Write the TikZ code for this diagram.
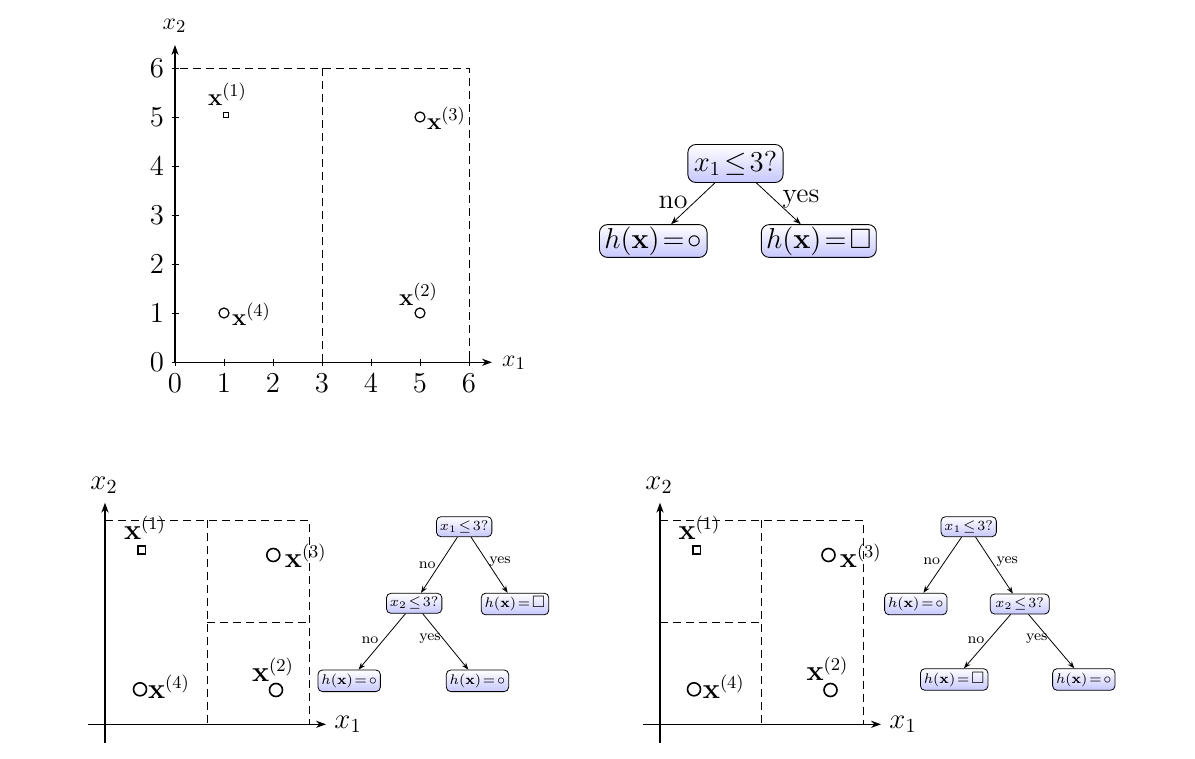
\documentclass[tikz,border=0pt]{standalone}
\usepackage{amsmath,amssymb}
\usetikzlibrary{arrows.meta}
\thickmuskip=2mu plus 1mu
\tikzset{
  x=0.5pt, y=-0.5pt,
  ax/.style={line width=0.55pt, -{Stealth[length=5pt,width=3.6pt]}},
  dsh/.style={line width=0.5pt, dash pattern=on 4pt off 2.5pt},
  tck/.style={line width=0.5pt},
  ticklab/.style={font=\fontsize{14.4}{16}\selectfont, inner sep=0pt},
  axlabA/.style={font=\fontsize{13}{15}\selectfont, inner sep=0pt},
  axlabB/.style={font=\fontsize{14}{16}\selectfont, inner sep=0pt},
  ptlabA/.style={font=\fontsize{12.5}{14}\selectfont, inner sep=0pt},
  ptlabB/.style={font=\fontsize{13.5}{15}\selectfont, inner sep=0pt},
  circA/.style={circle, draw, line width=0.6pt, minimum size=5pt, inner sep=0pt},
  sqA/.style={rectangle, draw, line width=0.6pt, minimum size=2.6pt, inner sep=0pt},
  circB/.style={circle, draw, line width=0.8pt, minimum size=6.5pt, inner sep=0pt},
  sqB/.style={rectangle, draw, line width=0.8pt, minimum size=3.8pt, inner sep=0pt},
  tnode/.style={draw, line width=0.45pt, rounded corners=4pt, top color=white, bottom color=blue!22,
    font=\fontsize{14}{16}\selectfont, inner xsep=2.4pt, inner ysep=1pt},
  bnode/.style={draw, line width=0.4pt, rounded corners=2.2pt, top color=white, bottom color=blue!22,
    font=\fontsize{7.5}{8.5}\selectfont, inner xsep=1.7pt, inner ysep=0.5pt},
  tedge/.style={line width=0.4pt, -{Stealth[length=4pt,width=3pt]}},
  bedge/.style={line width=0.4pt, -{Stealth[length=3.5pt,width=2.6pt]}},
  tlab/.style={font=\fontsize{14}{16}\selectfont, inner sep=0pt},
  blab/.style={font=\fontsize{7.5}{8.5}\selectfont, inner sep=0pt},
}
\begin{document}
\begin{tikzpicture}
\useasboundingbox (0,0) rectangle (1195,759);

% ---------------- top plot ----------------
\coordinate (A0) at (175,362.3);
\coordinate (AX) at (492,362.3);
\coordinate (AY) at (175,45);
\draw[dsh] (175,362.3) rectangle (469,68.3);
\draw[dsh] (322,362.3) -- (322,68.3);
\foreach \k in {0,...,6}{
  \draw[tck] (175+49*\k,358.8) -- (175+49*\k,365.8);
  \draw[tck] (171.5,362.3-49*\k) -- (178.5,362.3-49*\k);
  \node[ticklab] at (175+49*\k,383) {$\k$};
  \node[ticklab] at (157,362.3-49*\k) {$\k$};
}
\draw[ax] (A0) -- (AX);
\draw[ax] (A0) -- (AY);
\node[axlabA] (ax1) at (514,363) {$x_1$};
\node[axlabA] (ax2) at (174.5,26) {$x_2$};

\node[sqA] (p1) at (226,115) {};
\node[circA] (p3) at (420,117) {};
\node[circA] (p2) at (420,313) {};
\node[circA] (p4) at (224,313) {};
\node[ptlabA] (l1) at (227.5,94) {$\mathbf{x}^{(1)}$};
\node[ptlabA] (l3) at (446.5,118) {$\mathbf{x}^{(3)}$};
\node[ptlabA] (l2) at (418.5,294.5) {$\mathbf{x}^{(2)}$};
\node[ptlabA] (l4) at (251.5,314) {$\mathbf{x}^{(4)}$};

% ---------------- top tree ----------------
\node[tnode, minimum height=19pt, inner xsep=3pt] (tr) at (735.5,163.5) {$x_1\leq3?$};
\node[tnode, minimum height=16pt] (tl) at (653.3,241) {$h(\mathbf{x})=\circ$};
\node[tnode, minimum height=16pt] (tq) at (818.8,241) {$h(\mathbf{x})=\square$};
\draw[tedge] (tr) -- (tl);
\draw[tedge] (tr) -- (tq);
\node[tlab] (tno) at (673,202) {no};
\node[tlab] (tyes) at (801,199) {yes};

% ---------------- bottom-left plot ----------------
\coordinate (BLx0) at (88,724.3);
\coordinate (BLx1) at (326,724.3);
\coordinate (BLy0) at (105,742.7);
\coordinate (BLy1) at (105,502.7);
\draw[dsh] (105,520) -- (309,520) -- (309,724.3);
\draw[dsh] (207,520) -- (207,724.3);
\draw[dsh] (207,622.3) -- (309,622.3);
\draw[ax] (BLx0) -- (BLx1);
\draw[ax] (BLy0) -- (BLy1);
\node[axlabB] (blx1) at (348,724) {$x_1$};
\node[axlabB] (blx2) at (104,485.5) {$x_2$};
\node[sqB] (bp1) at (141.7,550) {};
\node[circB] (bp3) at (273.3,555) {};
\node[circB] (bp2) at (276,690) {};
\node[circB] (bp4) at (140,689.3) {};
\node[ptlabB] (bl1) at (145,527.5) {$\mathbf{x}^{(1)}$};
\node[ptlabB] (bl3) at (305.8,556) {$\mathbf{x}^{(3)}$};
\node[ptlabB] (bl2) at (273,670) {$\mathbf{x}^{(2)}$};
\node[ptlabB] (bl4) at (169,686.5) {$\mathbf{x}^{(4)}$};

% ---------------- bottom-left tree ----------------
\node[bnode, minimum height=10pt] (a1) at (464.2,526.7) {$x_1\leq3?$};
\node[bnode, minimum height=10pt] (a2) at (414.2,603.3) {$x_2\leq3?$};
\node[bnode, minimum height=10.8pt] (a3) at (515,604) {$h(\mathbf{x})=\square$};
\node[bnode, minimum height=10.8pt] (a4) at (349.2,680.8) {$h(\mathbf{x})=\circ$};
\node[bnode, minimum height=10.8pt] (a5) at (477.5,680.8) {$h(\mathbf{x})=\circ$};
\draw[bedge] (a1) -- (a2);
\draw[bedge] (a1) -- (a3);
\draw[bedge] (a2) -- (a4);
\draw[bedge] (a2) -- (a5);
\node[blab] (an1) at (427.3,565) {no};
\node[blab] (ay1) at (500,561.7) {yes};
\node[blab] (an2) at (370,640) {no};
\node[blab] (ay2) at (430,638.3) {yes};

% ---------------- bottom-right plot ----------------
\coordinate (BRx0) at (643,724.3);
\coordinate (BRx1) at (881,724.3);
\coordinate (BRy0) at (660,742.7);
\coordinate (BRy1) at (660,502.7);
\draw[dsh] (660,520) -- (863.3,520) -- (863.3,724.3);
\draw[dsh] (761.7,520) -- (761.7,724.3);
\draw[dsh] (660,622.3) -- (761.7,622.3);
\draw[ax] (BRx0) -- (BRx1);
\draw[ax] (BRy0) -- (BRy1);
\node[axlabB] (brx1) at (903,724) {$x_1$};
\node[axlabB] (brx2) at (659,485.5) {$x_2$};
\node[sqB] (cp1) at (696.7,550) {};
\node[circB] (cp3) at (828.5,555) {};
\node[circB] (cp2) at (830.5,690) {};
\node[circB] (cp4) at (694,689.3) {};
\node[ptlabB] (cl1) at (699.5,527.5) {$\mathbf{x}^{(1)}$};
\node[ptlabB] (cl3) at (860.8,556) {$\mathbf{x}^{(3)}$};
\node[ptlabB] (cl2) at (827.5,669) {$\mathbf{x}^{(2)}$};
\node[ptlabB] (cl4) at (723.8,686.5) {$\mathbf{x}^{(4)}$};

% ---------------- bottom-right tree ----------------
\node[bnode, minimum height=10pt] (b1) at (968.7,526.7) {$x_1\leq3?$};
\node[bnode, minimum height=10.8pt] (b2) at (915.8,604) {$h(\mathbf{x})=\circ$};
\node[bnode, minimum height=10pt, minimum width=29.5pt] (b3) at (1019.7,604) {$x_2\leq3?$};
\node[bnode, minimum height=10.8pt] (b4) at (954.2,679.5) {$h(\mathbf{x})=\square$};
\node[bnode, minimum height=10.8pt] (b5) at (1083.8,679.5) {$h(\mathbf{x})=\circ$};
\draw[bedge] (b1) -- (b2);
\draw[bedge] (b1) -- (b3);
\draw[bedge] (b3) -- (b4);
\draw[bedge] (b3) -- (b5);
\node[blab] (bn1) at (931.7,561.7) {no};
\node[blab] (by1) at (1007.3,561.7) {yes};
\node[blab] (bn2) at (976,640) {no};
\node[blab] (by2) at (1036.7,638.3) {yes};
\end{tikzpicture}
\end{document}
